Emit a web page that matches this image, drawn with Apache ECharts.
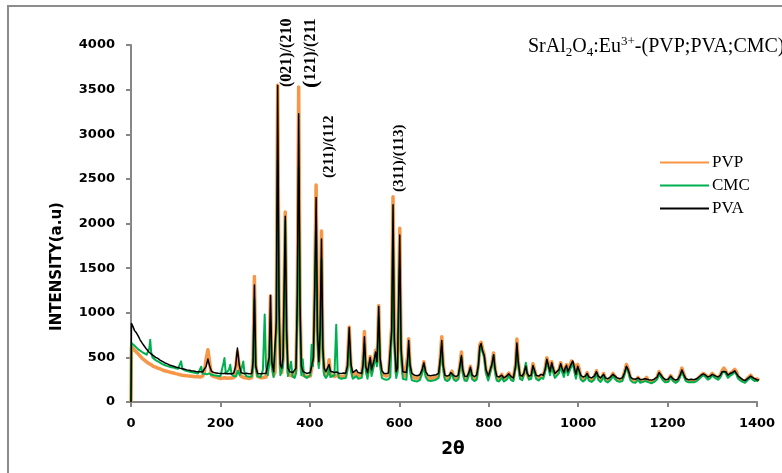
<!DOCTYPE html>
<html><head><meta charset="utf-8">
<script src="https://cdn.jsdelivr.net/npm/echarts@6/dist/echarts.min.js"></script>
<style>html,body{margin:0;padding:0;background:#fff}#c{width:782px;height:473px}</style>
</head><body><div id="c"></div>
<script>
const seriesNames = ['PVP', 'CMC', 'PVA'];
const xTicks = [0, 200, 400, 600, 800, 1000, 1200, 1400];
const yTicks = [0, 500, 1000, 1500, 2000, 2500, 3000, 3500, 4000];
const peakLabels = ['(021)/(210', '(121)/(211', '(211)/(112', '(311)/(113)'];
const titleText = 'SrAl2O4:Eu3+-(PVP;PVA;CMC)';

const pvp = [[0,0],[1,620],[4,600],[8,580],[12,560],[16,540],[20,520],[25,490],[30,470],[35,450],[40,430],[45,420],[50,400],[55,390],[60,380],[65,370],[70,360],[75,350],[80,345],[85,338],[90,330],[95,325],[100,318],[105,312],[110,305],[115,300],[120,298],[125,295],[130,290],[135,288],[140,286],[145,284],[150,282],[155,280],[160,290],[164,330],[168,480],[172,585],[176,440],[180,300],[185,285],[190,280],[195,270],[200,262],[205,268],[210,272],[215,266],[220,270],[225,268],[230,275],[234,380],[238,560],[242,400],[246,290],[252,275],[258,270],[264,262],[270,275],[273,500],[276,1405],[279,420],[283,290],[290,272],[296,275],[299,285],[302,280],[306,290],[309,500],[312,1190],[315,430],[319,300],[322,330],[325,950],[328,3550],[331,1150],[334,380],[337,330],[340,480],[343,1450],[345,2130],[348,820],[351,330],[355,300],[358,320],[362,290],[366,300],[369,350],[372,1250],[375,3530],[378,1150],[381,360],[385,300],[389,290],[393,285],[397,300],[401,290],[405,310],[408,500],[411,1400],[414,2430],[417,850],[420,420],[423,850],[426,1916],[429,620],[432,340],[436,300],[440,340],[443,473],[446,310],[450,290],[455,285],[460,300],[465,285],[470,280],[475,290],[480,285],[484,420],[488,840],[492,400],[496,290],[500,280],[504,330],[508,290],[512,280],[516,300],[519,480],[522,790],[525,420],[529,300],[532,420],[535,510],[538,330],[541,340],[544,480],[547,580],[550,440],[552,720],[554,1080],[557,480],[561,320],[566,300],[571,290],[576,300],[580,320],[583,850],[586,2300],[589,760],[593,320],[596,380],[598,1050],[601,1946],[604,620],[608,320],[612,290],[616,300],[619,520],[621,710],[624,420],[628,290],[634,270],[640,265],[646,280],[651,350],[655,450],[659,320],[664,270],[670,265],[676,270],[682,280],[688,300],[692,520],[695,730],[698,430],[702,280],[707,265],[712,280],[715,320],[718,345],[722,280],[727,260],[732,280],[736,430],[739,560],[742,360],[746,270],[751,260],[755,310],[759,400],[763,285],[768,260],[773,280],[777,430],[780,640],[783,670],[786,600],[790,530],[794,350],[799,270],[803,290],[807,430],[811,550],[814,380],[818,270],[823,260],[829,310],[834,260],[840,290],[845,325],[850,280],[855,260],[860,420],[863,705],[866,460],[870,290],[875,270],[879,320],[883,400],[886,310],[890,270],[895,290],[899,430],[902,420],[906,290],[912,270],[917,300],[922,300],[926,370],[930,495],[933,440],[937,340],[941,450],[944,380],[948,310],[952,290],[957,360],[961,440],[964,380],[968,320],[971,380],[974,420],[977,340],[981,330],[985,460],[988,480],[991,420],[995,300],[999,420],[1002,380],[1006,280],[1011,260],[1016,280],[1020,330],[1024,270],[1030,250],[1036,280],[1041,350],[1045,280],[1050,250],[1054,280],[1057,320],[1061,260],[1066,240],[1072,270],[1078,320],[1082,290],[1087,260],[1093,250],[1099,260],[1104,340],[1108,420],[1112,370],[1117,270],[1122,240],[1128,230],[1134,275],[1139,235],[1145,240],[1150,250],[1153,275],[1158,235],[1164,225],[1170,240],[1176,270],[1181,340],[1185,330],[1190,260],[1195,235],[1201,240],[1207,295],[1212,250],[1218,230],[1223,245],[1228,310],[1232,380],[1236,320],[1241,250],[1247,235],[1253,240],[1259,235],[1265,250],[1270,275],[1275,300],[1280,320],[1285,300],[1290,270],[1295,290],[1300,320],[1304,330],[1308,280],[1313,270],[1318,300],[1322,350],[1326,380],[1330,350],[1335,290],[1340,320],[1345,340],[1350,365],[1354,340],[1358,280],[1363,255],[1368,240],[1373,230],[1378,260],[1382,250],[1386,300],[1390,270],[1395,250],[1400,260],[1405,240]];

const cmc = [[0,0],[1,660],[4,650],[8,630],[12,610],[16,590],[20,575],[25,560],[30,545],[35,530],[38,520],[41,600],[43,697],[45,560],[48,500],[52,480],[56,465],[60,452],[65,440],[70,425],[75,415],[80,405],[85,398],[90,390],[95,385],[100,378],[105,372],[109,380],[112,455],[115,370],[120,355],[125,348],[130,342],[135,336],[140,330],[145,325],[150,320],[154,330],[157,395],[160,320],[165,315],[170,310],[175,320],[180,305],[185,300],[190,296],[195,292],[200,288],[204,300],[207,440],[209,492],[212,320],[216,300],[219,360],[222,417],[225,310],[230,290],[235,285],[239,350],[243,300],[248,390],[251,454],[254,320],[258,290],[264,282],[270,285],[273,380],[276,1150],[279,380],[283,285],[290,280],[295,360],[299,980],[302,400],[306,300],[309,420],[312,900],[315,400],[319,280],[322,300],[325,800],[328,2700],[331,900],[334,300],[337,290],[340,400],[343,1350],[345,2030],[348,700],[351,290],[355,270],[358,450],[361,290],[366,270],[369,320],[372,1000],[375,2630],[378,900],[381,300],[384,480],[387,290],[393,270],[397,270],[401,300],[404,641],[407,400],[411,1200],[414,2000],[417,700],[420,380],[423,700],[426,1600],[429,500],[432,300],[436,270],[440,300],[443,380],[446,280],[450,265],[455,300],[459,865],[462,350],[465,270],[470,260],[475,265],[480,270],[484,350],[488,700],[492,350],[496,260],[500,250],[504,290],[508,260],[512,250],[516,270],[519,400],[522,650],[525,350],[529,260],[532,380],[535,470],[538,290],[541,300],[544,430],[547,520],[550,400],[552,650],[554,950],[557,420],[561,270],[566,255],[571,250],[576,255],[580,280],[583,750],[586,1900],[589,650],[593,270],[596,330],[598,850],[601,1500],[604,500],[608,260],[612,245],[616,250],[619,450],[621,600],[624,350],[628,245],[634,235],[640,230],[646,245],[651,320],[655,420],[659,280],[664,240],[670,235],[676,240],[682,250],[688,270],[692,450],[695,620],[698,380],[702,250],[707,235],[712,250],[715,290],[718,320],[722,250],[727,235],[732,255],[736,400],[739,500],[742,320],[746,240],[751,235],[755,290],[759,360],[763,255],[768,235],[773,250],[777,400],[780,580],[783,620],[786,560],[790,500],[794,320],[799,240],[803,260],[807,400],[811,520],[814,340],[818,240],[823,230],[829,270],[834,230],[840,250],[845,290],[850,245],[855,235],[860,380],[863,600],[866,420],[870,260],[875,245],[879,320],[883,440],[886,330],[890,250],[895,260],[899,390],[902,380],[906,260],[912,240],[917,270],[922,260],[926,330],[930,450],[933,400],[937,300],[941,400],[944,340],[948,270],[952,250],[957,320],[961,400],[964,340],[968,280],[971,350],[974,380],[977,300],[981,280],[985,400],[988,430],[991,360],[995,260],[999,370],[1002,340],[1006,250],[1011,230],[1016,250],[1020,300],[1024,240],[1030,225],[1036,250],[1041,320],[1045,250],[1050,225],[1054,250],[1057,290],[1061,235],[1066,220],[1072,245],[1078,290],[1082,260],[1087,235],[1093,225],[1099,235],[1104,310],[1108,390],[1112,340],[1117,245],[1122,220],[1128,215],[1134,250],[1139,215],[1145,225],[1150,235],[1153,255],[1158,220],[1164,210],[1170,225],[1176,250],[1181,310],[1185,300],[1190,240],[1195,220],[1201,225],[1207,270],[1212,235],[1218,215],[1223,230],[1228,280],[1232,340],[1236,290],[1241,235],[1247,220],[1253,225],[1259,220],[1265,235],[1270,255],[1275,280],[1280,300],[1285,280],[1290,250],[1295,265],[1300,295],[1304,305],[1308,265],[1313,250],[1318,275],[1322,320],[1326,345],[1330,320],[1335,270],[1340,295],[1345,310],[1350,335],[1354,310],[1358,260],[1363,240],[1368,225],[1373,215],[1378,240],[1382,230],[1386,275],[1390,250],[1395,235],[1400,240],[1405,225]];

const pva = [[0,0],[1,880],[4,850],[8,800],[12,775],[16,740],[20,700],[25,660],[30,625],[35,590],[40,560],[45,540],[50,520],[55,500],[60,488],[65,470],[70,455],[75,440],[80,430],[85,418],[90,408],[95,400],[100,392],[105,385],[110,378],[115,372],[120,366],[125,360],[130,355],[135,350],[140,347],[145,343],[150,340],[155,338],[160,336],[164,340],[168,400],[172,481],[176,400],[180,345],[185,330],[190,326],[195,322],[200,320],[205,318],[210,322],[215,316],[220,318],[225,315],[230,325],[234,400],[238,604],[242,420],[246,330],[252,318],[258,322],[264,316],[270,320],[273,450],[276,1312],[279,400],[283,320],[290,316],[296,318],[299,330],[302,320],[306,330],[309,500],[312,1193],[315,450],[319,340],[322,360],[325,900],[328,3545],[331,1100],[334,420],[337,380],[340,500],[343,1400],[345,2080],[348,800],[351,380],[355,340],[358,360],[362,330],[366,340],[369,380],[372,1200],[375,3230],[378,1100],[381,400],[385,340],[389,330],[393,320],[397,335],[401,330],[405,345],[408,500],[411,1300],[414,2290],[417,800],[420,450],[423,800],[426,1826],[429,600],[432,380],[436,340],[440,360],[443,420],[446,345],[450,325],[455,330],[460,335],[465,320],[470,318],[475,325],[480,322],[484,400],[488,835],[492,420],[496,330],[500,322],[504,360],[508,330],[512,318],[516,320],[519,420],[522,730],[525,400],[529,330],[532,420],[535,500],[538,360],[541,360],[544,480],[547,560],[550,450],[552,700],[554,1070],[557,500],[561,350],[566,320],[571,318],[576,325],[580,330],[583,800],[586,2210],[589,700],[593,340],[596,380],[598,1000],[601,1871],[604,600],[608,340],[612,320],[616,330],[619,500],[621,690],[624,420],[628,320],[634,300],[640,295],[646,305],[651,360],[655,440],[659,340],[664,300],[670,295],[676,300],[682,305],[688,320],[692,500],[695,690],[698,420],[702,300],[707,290],[712,300],[715,330],[718,340],[722,295],[727,285],[732,300],[736,420],[739,520],[742,360],[746,290],[751,285],[755,320],[759,390],[763,300],[768,285],[773,300],[777,420],[780,620],[783,655],[786,580],[790,520],[794,360],[799,290],[803,300],[807,420],[811,530],[814,380],[818,290],[823,280],[829,300],[834,270],[840,290],[845,315],[850,285],[855,270],[860,400],[863,660],[866,450],[870,300],[875,290],[879,330],[883,400],[886,320],[890,290],[895,300],[899,410],[902,400],[906,300],[912,290],[917,310],[922,300],[926,360],[930,480],[933,420],[937,340],[941,440],[944,380],[948,320],[952,300],[957,360],[961,430],[964,380],[968,330],[971,380],[974,410],[977,340],[981,330],[985,430],[988,460],[991,400],[995,310],[999,400],[1002,380],[1006,300],[1011,280],[1016,290],[1020,320],[1024,280],[1030,270],[1036,290],[1041,340],[1045,290],[1050,270],[1054,290],[1057,310],[1061,270],[1066,260],[1072,280],[1078,310],[1082,290],[1087,270],[1093,260],[1099,270],[1104,330],[1108,400],[1112,360],[1117,280],[1122,260],[1128,255],[1134,270],[1139,250],[1145,255],[1150,260],[1153,270],[1158,250],[1164,245],[1170,255],[1176,275],[1181,330],[1185,320],[1190,270],[1195,250],[1201,255],[1207,290],[1212,260],[1218,245],[1223,255],[1228,300],[1232,360],[1236,310],[1241,260],[1247,250],[1253,255],[1259,250],[1265,260],[1270,280],[1275,300],[1280,315],[1285,300],[1290,280],[1295,290],[1300,310],[1304,320],[1308,290],[1313,280],[1318,300],[1322,340],[1326,360],[1330,340],[1335,300],[1340,320],[1345,330],[1350,350],[1354,330],[1358,290],[1363,270],[1368,250],[1373,240],[1378,260],[1382,250],[1386,290],[1390,270],[1395,260],[1400,250],[1405,245]];

const colors = ['#F79646', '#00B050', '#000000'];
const widths = [3.5, 2, 1.5];
const dataList = [pvp, cmc, pva];

const chart = echarts.init(document.getElementById('c'), null, {renderer: 'canvas'});
const axisColor = '#868686';
const tickFont = {fontFamily: 'DejaVu Sans', fontWeight: 'bold', fontSize: 13, color: '#000'};
const serif = 'Liberation Serif';

chart.setOption({
  animation: false,
  backgroundColor: '#fff',
  grid: {left: 131, right: 25, top: 45, bottom: 71},
  title: {
    left: 523, top: 30,
    text: '{n|SrAl}{s|2}{n|O}{s|4}{n|:Eu}{p|3+}{n|-(PVP;PVA;CMC)}',
    textStyle: {
      fontWeight: 'normal',
      rich: {
        n: {fontFamily: serif, fontWeight: 'normal', fontSize: 20, color: '#000', lineHeight: 24, verticalAlign: 'middle'},
        s: {fontFamily: serif, fontWeight: 'normal', fontSize: 13, color: '#000', lineHeight: 24, verticalAlign: 'bottom'},
        p: {fontFamily: serif, fontWeight: 'normal', fontSize: 13, color: '#000', lineHeight: 24, verticalAlign: 'top'}
      }
    }
  },
  legend: {
    orient: 'vertical', left: 654, top: 149,
    itemWidth: 49, itemHeight: 14, itemGap: 6,
    data: seriesNames,
    itemStyle: {opacity: 0},
    textStyle: {fontFamily: serif, fontSize: 17, color: '#000', padding: [0, 0, 0, -2]}
  },
  xAxis: {
    type: 'value', min: 0, max: 1400, interval: 200,
    name: '2θ', nameLocation: 'middle', nameGap: 39,
    nameTextStyle: {fontFamily: 'DejaVu Sans', fontWeight: 'bold', fontSize: 17, color: '#000', padding: [0, 0, 0, 18]},
    axisLine: {lineStyle: {color: axisColor, width: 2}},
    axisTick: {show: true, length: 5, lineStyle: {color: axisColor, width: 2}},
    axisLabel: Object.assign({margin: 15, formatter: v => xTicks.includes(v) ? String(v) : ''}, tickFont),
    splitLine: {show: false}
  },
  yAxis: {
    type: 'value', min: 0, max: 4000, interval: 500,
    name: 'INTENSITY(a.u)', nameLocation: 'middle', nameGap: 66,
    nameTextStyle: {fontFamily: 'DejaVu Sans', fontWeight: 'bold', fontSize: 15, color: '#000', padding: [0, 86, 0, 0]},
    axisLine: {show: true, lineStyle: {color: axisColor, width: 2}},
    axisTick: {show: true, length: 5, lineStyle: {color: axisColor, width: 2}},
    axisLabel: Object.assign({margin: 16, formatter: v => yTicks.includes(v) ? String(v) : ''}, tickFont),
    splitLine: {show: false}
  },
  series: seriesNames.map((n, i) => ({
    name: n, type: 'line', data: dataList[i], symbol: 'none', showSymbol: false,
    lineStyle: {color: colors[i], width: widths[i], join: 'round'},
    itemStyle: {color: colors[i]},
    z: 2 + i
  })),
  graphic: [
    {type: 'rect', z: 100, shape: {x: 8, y: 6, width: 900, height: 600}, style: {fill: 'none', stroke: '#8c8c8c', lineWidth: 2}},
    {type: 'text', x: 287, y: 87, rotation: Math.PI / 2, z: 100,
      style: {text: peakLabels[0], font: 'bold 16px "Liberation Serif"', fill: '#000', textAlign: 'left', textVerticalAlign: 'middle'}},
    {type: 'text', x: 311, y: 88, rotation: Math.PI / 2, z: 100,
      style: {text: '{b|(}{a|' + peakLabels[1].slice(1) + '}', textAlign: 'left', textVerticalAlign: 'middle',
        rich: {b: {font: 'bold 22px "Liberation Serif"', fill: '#000'}, a: {font: 'bold 16px "Liberation Serif"', fill: '#000'}}}},
    {type: 'text', x: 329, y: 178, rotation: Math.PI / 2, z: 100,
      style: {text: peakLabels[2], font: 'bold 15px "Liberation Serif"', fill: '#000', textAlign: 'left', textVerticalAlign: 'middle'}},
    {type: 'text', x: 399, y: 192, rotation: Math.PI / 2, z: 100,
      style: {text: peakLabels[3], font: 'bold 15px "Liberation Serif"', fill: '#000', textAlign: 'left', textVerticalAlign: 'middle'}}
  ]
});
</script>
</body></html>
